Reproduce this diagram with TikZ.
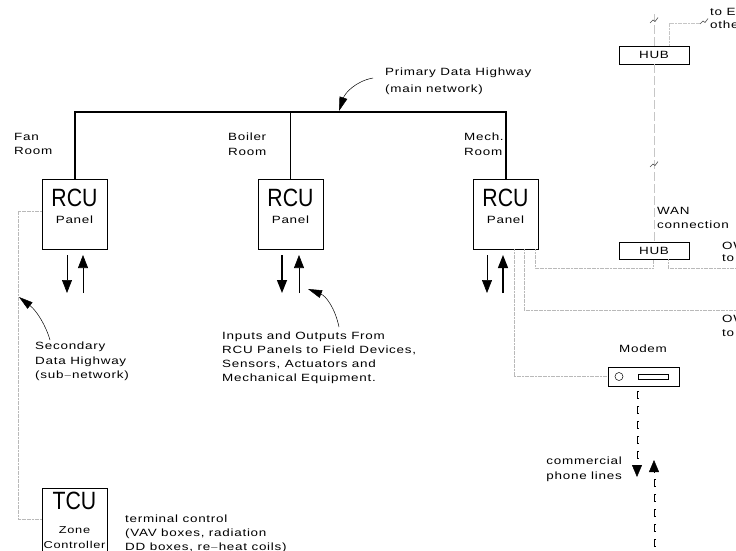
\documentclass[tikz,border=0pt]{standalone}
\usepackage{fontspec}
\setmainfont{Liberation Sans}[FakeStretch=1.28,LetterSpace=7]
\newfontfamily\bigfont{Liberation Sans}[FakeStretch=0.85]
\usetikzlibrary{arrows.meta,calc}
\begin{document}
\begin{tikzpicture}[x=1pt,y=-1pt,
  box/.style={draw,line width=0.6pt,inner sep=0,minimum width=65pt,minimum height=70pt},
  hubbox/.style={draw,line width=0.9pt,inner sep=0,minimum width=70pt,minimum height=18pt,font=\fontsize{10.5}{12}\selectfont},
  lbl/.style={inner sep=0,align=left,anchor=north west,font=\fontsize{10.5}{14.5}\selectfont},
  rlbl/.style={inner sep=0,align=right,anchor=north east,font=\fontsize{10.5}{14.5}\selectfont},
  small/.style={inner sep=0,font=\fontsize{10.5}{12}\selectfont},
  big/.style={inner sep=0,font=\bigfont\fontsize{25}{25}\selectfont},
  highway/.style={line width=1.6pt},
  io/.style={line width=0.6pt,-{Triangle[width=10pt,length=13pt]}},
  iothick/.style={line width=1.4pt,-{Triangle[width=10pt,length=13pt]}},
  ptr/.style={line width=0.5pt,-{Triangle[width=8pt,length=14pt]}},
  subnet/.style={gray!55,line width=0.7pt,dash pattern=on 2pt off 0.6pt},
  wan/.style={gray!45,line width=0.8pt,dash pattern=on 9pt off 3pt},
  brkmark/.pic={\draw[black!70,line width=0.6pt] (-4,3) -- (-1,0) -- (1,1.5) -- (4,-2.5);},
  bracket/.pic={\draw[line width=0.5pt] (2,-3.5) -- (0,-3.5) -- (0,3.5) -- (2,3.5);},
]
\useasboundingbox (0,0) rectangle (736,550);
\clip (0,0) rectangle (736,550);

% RCU / TCU boxes
\node[box] (fan) at (74.5,214) {};
\node[box] (boiler) at (290.5,214) {};
\node[box] (mech) at (505.5,214) {};
\node[box,minimum height=74pt] (tcu) at (74.5,525) {};

\foreach \b in {fan,boiler,mech}{
  \node[big] (\b-t) at ($(\b.north)+(0,19)$) {RCU};
  \node[small] (\b-p) at ($(\b.north)+(0,41)$) {Panel};
}
\node[big] (tcu-t) at ($(tcu.north)+(0,13)$) {TCU};
\node[small,font=\fontsize{10}{12}\selectfont] (tcu-z) at ($(tcu.north)+(0,42)$) {Zone};
\node[small,font=\fontsize{10}{12}\selectfont] (tcu-c) at ($(tcu.north)+(0,57)$) {Controller};

% hubs and modem
\node[hubbox] (hub1) at (654,55) {HUB};
\node[hubbox,minimum height=17pt] (hub2) at (654,250.5) {HUB};
\node[draw,line width=0.9pt,inner sep=0,minimum width=71pt,minimum height=19pt] (modem) at (643.5,376.5) {};
\draw[line width=0.5pt] (619,376.5) circle (4);
\draw[line width=0.6pt] (638,374) rectangle (668,379);

% primary data highway
\coordinate (hwL) at (75,112);
\coordinate (hwR) at (506,112);
\draw[highway] (fan.north -| hwL) -- (hwL) -- (hwR) -- (mech.north -| hwR);
\draw[line width=0.6pt] (boiler.north) -- (boiler.north |- hwL);

% I/O arrows
\coordinate (fd1) at (67,255); \coordinate (fd2) at (67,293);
\coordinate (fu1) at (83,293); \coordinate (fu2) at (83,255);
\draw[io] (fd1) -- (fd2);
\draw[io] (fu1) -- (fu2);
\coordinate (bd1) at (282,255); \coordinate (bd2) at (282,293);
\coordinate (bu1) at (299,293); \coordinate (bu2) at (299,255);
\draw[iothick] (bd1) -- (bd2);
\draw[io] (bu1) -- (bu2);
\coordinate (md1) at (487,255); \coordinate (md2) at (487,293);
\coordinate (mu1) at (503,293); \coordinate (mu2) at (503,255);
\draw[io] (md1) -- (md2);
\draw[iothick] (mu1) -- (mu2);

% labels
\node[lbl] (fanl) at (14,133) {Fan\\Room};
\node[lbl] (boill) at (228,133) {Boiler\\Room};
\node[lbl] (mechl) at (464,133) {Mech.\\Room};
\node[lbl,font=\fontsize{10.5}{16.5}\selectfont] (prim) at (385,68) {Primary Data Highway\\(main network)};
\node[lbl] (sec) at (35,342) {Secondary\\Data Highway\\(sub$-$network)};
\node[lbl,font=\fontsize{10.5}{14}\selectfont] (inp) at (222,332) {Inputs and Outputs From\\RCU Panels to Field Devices,\\Sensors, Actuators and\\Mechanical Equipment.};
\node[lbl,font=\fontsize{10.5}{14}\selectfont] (term) at (125,515) {terminal control\\(VAV boxes, radiation\\DD boxes, re$-$heat coils)};
\node[lbl,font=\fontsize{10.5}{14}\selectfont] (wanl) at (657,207) {WAN\\connection};
\node[small] (modeml) at (643,349) {Modem};
\node[rlbl,font=\fontsize{10.5}{15}\selectfont] (phone) at (622,457) {commercial\\phone lines};
\node[lbl,font=\fontsize{10.5}{13}\selectfont] (toE) at (710,8) {to Ethernet\\other sites};
\node[lbl,font=\fontsize{10.5}{11.5}\selectfont] (ow1) at (722,242) {OWS\\to LAN};
\node[lbl,font=\fontsize{10.5}{14}\selectfont] (ow2) at (722,315) {OWS\\to LAN};

% pointer arrows
\coordinate (pa0) at (373,78); \coordinate (pa1) at (339,111);
\draw[ptr] (pa0) .. controls (356,81) and (345,93) .. (pa1);
\coordinate (sa0) at (50,340); \coordinate (sa1) at (19,297);
\draw[ptr] (sa0) .. controls (46,326) and (37,311) .. (sa1);
\coordinate (ba0) at (339,327); \coordinate (ba1) at (308,289);
\draw[ptr] (ba0) .. controls (335,308) and (326,296) .. (ba1);

% secondary data highway
\coordinate (s1) at (18,211); \coordinate (s2) at (18,519);
\draw[subnet] (fan.west |- s1) -- (s1) -- (s2) -- (tcu.west |- s2);

% mech panel connections
\coordinate (h1) at (535,268); \coordinate (h2) at (653,268);
\draw[subnet] (mech.south -| h1) -- (h1) -- (h2) -- (hub2.south -| h2);
\coordinate (h3) at (668,268); \coordinate (h4) at (740,268);
\draw[subnet] (hub2.south -| h3) -- (h3) -- (h4);
\coordinate (o1) at (524,310); \coordinate (o2) at (740,310);
\draw[subnet] (mech.south -| o1) -- (o1) -- (o2);
\coordinate (m1) at (514,376.5);
\draw[subnet] (mech.south -| m1) -- (m1) -- (modem.west);

% WAN lines
\coordinate (w0) at (654,14);
\draw[wan] (hub1.north) -- (hub1.north |- w0);
\pic at (654,20) {brkmark};
\draw[wan] (hub1.south) -- (hub2.north);
\pic at (654,164) {brkmark};
\coordinate (e1) at (669,23); \coordinate (e2) at (701,23);
\draw[subnet,gray!45] (hub1.north -| e1) -- (e1) -- (e2);
\pic at (704,21) {brkmark};

% phone lines
\coordinate (p0) at (637,465); \coordinate (p1) at (637,477);
\foreach \yy in {395,410,425,440,455} { \pic at (637,\yy) {bracket}; }
\draw[-{Triangle[width=10pt,length=12pt]}] (p0) -- (p1);
\coordinate (q0) at (654,472); \coordinate (q1) at (654,460);
\draw[-{Triangle[width=10pt,length=12pt]}] (q0) -- (q1);
\foreach \yy in {483,498,513,528,543} { \pic at (654,\yy) {bracket}; }
\end{tikzpicture}
\end{document}
